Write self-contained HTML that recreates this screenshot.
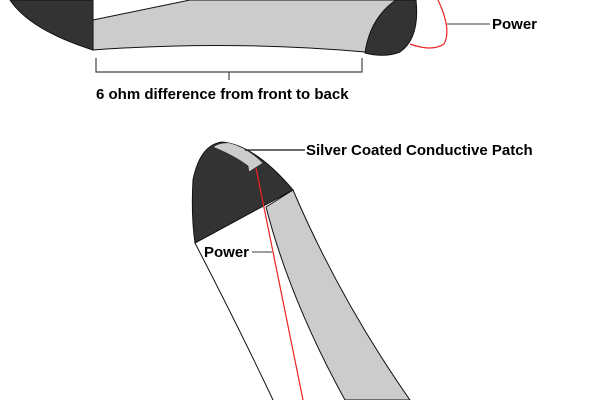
<!DOCTYPE html>
<html><head><style>
html,body{margin:0;padding:0;background:#fff;}
svg{display:block}
text{font-family:"Liberation Sans",sans-serif;font-weight:bold;fill:#000}
</style></head><body>
<svg width="600" height="400" viewBox="0 0 600 400">
<!-- top shape -->
<path d="M93,20 L190,0 L400,0 L395,30 L365,52 Q230,40 93,50 Z" fill="#cccccc" stroke="#111" stroke-width="1"/>
<path d="M10,0 L93,0 L93,50 Q30,30 10,0 Z" fill="#333" stroke="#111" stroke-width="1"/>
<path d="M396,0 L416,0 Q420,38 400,52 Q385,58 365,53 Q370,18 396,0 Z" fill="#333" stroke="#111" stroke-width="1"/>
<path d="M410,44 Q432,52 444,44 Q452,30 438,0" fill="none" stroke="#e22" stroke-width="1.2"/>
<line x1="447" y1="24" x2="490" y2="24" stroke="#666" stroke-width="1.2"/>
<text x="492" y="29" font-size="15">Power</text>
<!-- bracket -->
<path d="M96,58 L96,72 L362,72 L362,58 M229,72 L229,80" fill="none" stroke="#444" stroke-width="1.2"/>
<text x="96" y="99" font-size="15">6 ohm difference from front to back</text>
<!-- bottom shape -->
<path d="M195,243 Q240,330 273,400 L420,400 Z" fill="#fff"/>
<path d="M195,243 Q240,330 273,400" fill="none" stroke="#111" stroke-width="1"/>
<path d="M266,207 L293,190 Q340,300 410,400 L345,400 Q290,300 266,207 Z" fill="#cccccc" stroke="#111" stroke-width="1"/>
<path d="M195,243 L293,190 Q255,145 222,142 Q200,145 193,180 Q191,215 195,243 Z" fill="#333" stroke="#111" stroke-width="1"/>
<path d="M213,147 Q220,142 230,143 Q248,148 263,163 L249,172 L248,166 Q235,156 213,147 Z" fill="#ccc" stroke="#222" stroke-width="0.6"/>
<line x1="256" y1="168" x2="303" y2="400" stroke="#e22" stroke-width="1.2"/>
<line x1="245" y1="150" x2="305" y2="150" stroke="#111" stroke-width="1.2"/>
<text x="306" y="155" font-size="15">Silver Coated Conductive Patch</text>
<line x1="252" y1="252" x2="272" y2="252" stroke="#666" stroke-width="1.2"/>
<text x="204" y="257" font-size="15">Power</text>
</svg>
</body></html>
